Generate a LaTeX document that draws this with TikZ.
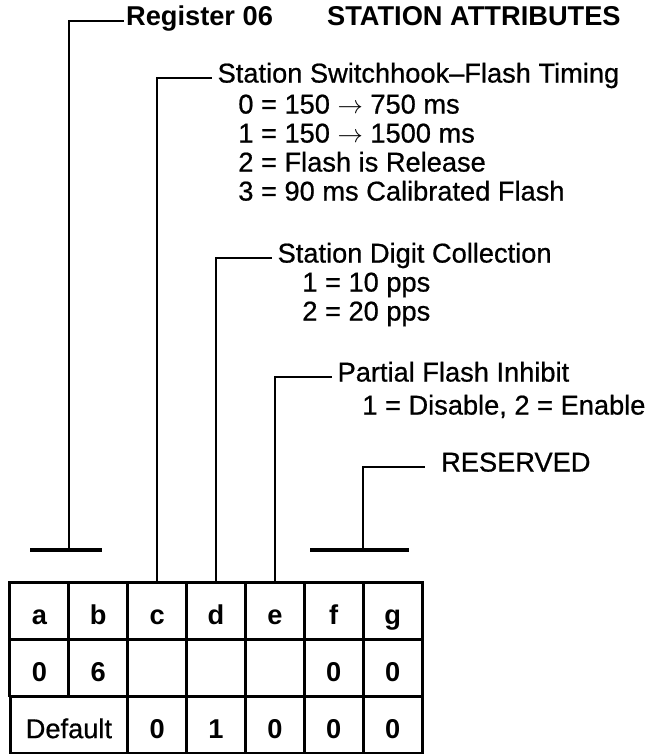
\documentclass[tikz,border=0pt]{standalone}
\usepackage{fontspec}
\setmainfont{Liberation Sans}
\newfontfamily\bodyfont[FakeBold=0.7]{Liberation Sans}
\usepackage{tikz}
\usetikzlibrary{positioning}
\newcommand{\fieldfont}{\fontsize{15.5pt}{18pt}\selectfont}
\newcommand{\upto}{ $\rightarrow$ }
\tikzset{
  lead line/.style={
    line width=1.5pt
  },
  tick bar/.style={
    line width=2.1pt
  },
  field label/.style={
    anchor=west,
    inner ysep=1pt,
    inner xsep=1pt,
    text height=0.72em,
    text depth=0.2em,
    font=\fieldfont\bodyfont
  },
  head label/.style={
    field label,
    font=\fieldfont\bfseries
  },
  option/.style={
    field label,
    inner xsep=0pt
  },
  cell/.style={
    draw,
    line width=1.7pt,
    minimum width=1.177cm,
    minimum height=1.14cm,
    inner sep=0pt,
    text height=1.55em,
    text depth=0pt,
    font=\fieldfont\bfseries
  }
}

\begin{document}
\begin{tikzpicture}[x=0.02cm, y=-0.02cm]
  \useasboundingbox (0,0) rectangle (648,756);

  % heading
  \node[head label] (reg) at (124,21) {Register 06};
  \node[head label] (title) at (325,21) {STATION ATTRIBUTES};

  % field c
  \node[field label, inner xsep=3pt] (swhk) at (212,78) {Station Switchhook–Flash Timing};
  \node[option] (swhk0) at (238,109) {0 = 150\upto750 ms};
  \node[option] (swhk1) at (238,138) {1 = 150\upto1500 ms};
  \node[option] (swhk2) at (238,167) {2 = Flash is Release};
  \node[option] (swhk3) at (238,196) {3 = 90 ms Calibrated Flash};

  % field d
  \node[field label, inner xsep=3pt] (digit) at (272,258) {Station Digit Collection};
  \node[option] (digit1) at (302,287) {1 = 10 pps};
  \node[option] (digit2) at (302,316) {2 = 20 pps};

  % field e
  \node[field label, inner xsep=3pt] (pfi) at (332,377) {Partial Flash Inhibit};
  \node[option] (pfi1) at (362,410) {1 = Disable, 2 = Enable};

  % fields f, g
  \node[field label, inner xsep=9pt] (resv) at (425,467) {RESERVED};

  % register table
  \node[cell] (ha) at (39.4,610.5) {a};
  \node[cell] (hb) at (98.3,610.5) {b};
  \node[cell] (hc) at (157.1,610.5) {c};
  \node[cell] (hd) at (216,610.5) {d};
  \node[cell] (he) at (274.9,610.5) {e};
  \node[cell] (hf) at (333.7,610.5) {f};
  \node[cell] (hg) at (392.6,610.5) {g};

  \node[cell] (va) at (39.4,667.5) {0};
  \node[cell] (vb) at (98.3,667.5) {6};
  \node[cell] (vc) at (157.1,667.5) {};
  \node[cell] (vd) at (216,667.5) {};
  \node[cell] (ve) at (274.9,667.5) {};
  \node[cell] (vf) at (333.7,667.5) {0};
  \node[cell] (vg) at (392.6,667.5) {0};

  \node[cell, minimum width=2.354cm, font=\fieldfont\bodyfont] (dab) at (68.9,724.5) {Default};
  \node[cell] (dc) at (157.1,724.5) {0};
  \node[cell] (dd) at (216,724.5) {1};
  \node[cell] (de) at (274.9,724.5) {0};
  \node[cell] (df) at (333.7,724.5) {0};
  \node[cell] (dg) at (392.6,724.5) {0};

  % leads
  \coordinate (abfoot) at (68.9,550);
  \coordinate (fgfoot) at (363.1,550);
  \draw[lead line] (abfoot) |- (reg.west);
  \draw[tick bar] (30,550) -- (102,550);
  \draw[lead line] (hc.north) |- (swhk.west);
  \draw[lead line] (hd.north) |- (digit.west);
  \draw[lead line] (he.north) |- (pfi.west);
  \draw[lead line] (fgfoot) |- (resv.west);
  \draw[tick bar] (310,550) -- (409,550);

\end{tikzpicture}
\end{document}
